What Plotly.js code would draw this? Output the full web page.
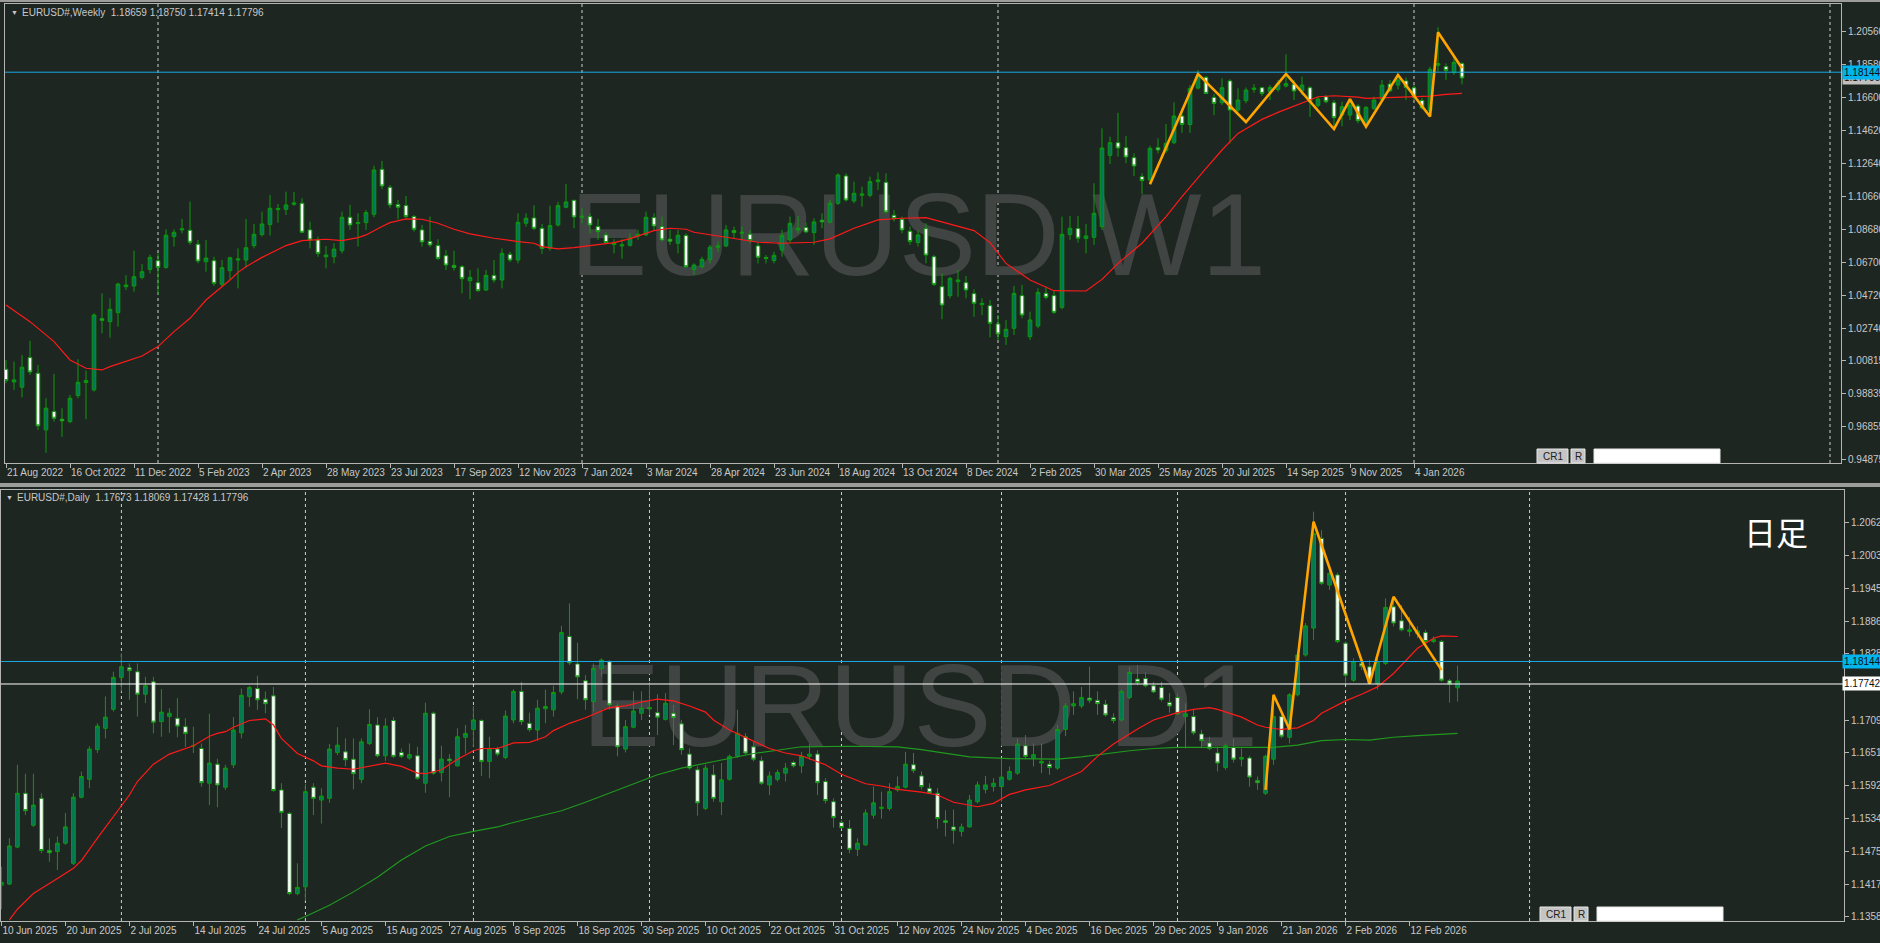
<!DOCTYPE html>
<html><head><meta charset="utf-8">
<script src="https://cdn.plot.ly/plotly-3.0.1.min.js"></script>
<style>html,body{margin:0;padding:0;background:#1e2621;overflow:hidden}#chart{width:1880px;height:943px}</style>
</head><body><div id="chart"></div>
<script>
// ---------------- Weekly (EURUSD W1) ----------------
const W_OPEN = [1.0030,0.9954,0.9922,1.0100,1.0006,0.9666,0.9776,0.9730,0.9716,0.9872,
0.9950,0.9906,1.0334,1.0316,1.0370,1.0526,1.0530,1.0582,1.0630,1.0682,
1.0642,1.0827,1.0867,1.0865,1.0781,1.0676,1.0682,1.0540,1.0622,1.0686,
1.0686,1.0773,1.0839,1.0899,1.0989,1.0991,1.1021,1.1027,1.0867,1.0807,
1.0706,1.0706,1.0742,1.0943,1.0905,1.0911,1.0961,1.1231,1.1123,1.1019,
1.1013,1.0947,1.0867,1.0797,1.0773,1.0712,1.0654,1.0646,1.0562,1.0550,
1.0506,1.0594,1.0566,1.0720,1.0686,1.0907,1.0939,1.0877,1.0756,1.0897,
1.1003,1.1045,1.0943,1.0947,1.0887,1.0837,1.0779,1.0771,1.0775,1.0831,
1.0837,1.0941,1.0887,1.0811,1.0787,1.0833,1.0630,1.0646,1.0690,1.0763,
1.0771,1.0863,1.0847,1.0841,1.0771,1.0701,1.0683,1.0746,1.0807,1.0867,
1.0881,1.0851,1.0925,1.0913,1.1027,1.1191,1.1041,1.1075,1.1075,1.1157,
1.1153,1.0955,1.0931,1.0859,1.0791,1.0875,1.0706,1.0526,1.0472,1.0556,
1.0550,1.0484,1.0418,1.0412,1.0302,1.0226,1.0276,1.0472,1.0226,1.0290,
1.0486,1.0472,1.0402,1.0839,1.0875,1.0815,1.0823,1.0887,1.1315,1.1391,
1.1361,1.1301,1.1187,1.1167,1.1361,1.1343,1.1391,1.1551,1.1500,1.1719,
1.1784,1.1663,1.1631,1.1762,1.1587,1.1643,1.1711,1.1721,1.1697,1.1711,
1.1731,1.1741,1.1703,1.1721,1.1615,1.1667,1.1631,1.1557,1.1557,1.1611,
1.1497,1.1597,1.1651,1.1743,1.1737,1.1762,1.1721,1.1645,1.1583,1.1856,
1.1848,1.1812,1.18659];
const W_HIGH = [1.0086,1.0076,1.0116,1.0202,1.0056,0.9856,1.0002,0.9796,0.9876,1.0090,
1.0022,1.0366,1.0486,1.0456,1.0550,1.0594,1.0742,1.0662,1.0718,1.0726,
1.0871,1.0871,1.0933,1.1037,1.0807,1.0807,1.0706,1.0686,1.0706,1.0756,
1.0933,1.0903,1.0977,1.1077,1.1023,1.1097,1.1095,1.1057,1.0917,1.0827,
1.0770,1.0787,1.0977,1.1017,1.0967,1.0987,1.1253,1.1281,1.1137,1.1047,
1.1071,1.0957,1.0897,1.0947,1.0811,1.0746,1.0742,1.0656,1.0626,1.0636,
1.0626,1.0686,1.0756,1.0736,1.0967,1.0967,1.1015,1.0903,1.1013,1.1037,
1.1143,1.1047,1.0997,1.0967,1.0933,1.0853,1.0811,1.0811,1.0847,1.0867,
1.0977,1.0967,1.0947,1.0867,1.0867,1.0847,1.0666,1.0706,1.0777,1.0797,
1.0897,1.0887,1.0887,1.0867,1.0791,1.0716,1.0736,1.0867,1.0947,1.0951,
1.0911,1.0937,1.0967,1.1047,1.1207,1.1207,1.1157,1.1127,1.1187,1.1213,
1.1207,1.0987,1.0947,1.0887,1.0867,1.0907,1.0716,1.0606,1.0586,1.0626,
1.0590,1.0510,1.0456,1.0446,1.0356,1.0326,1.0530,1.0536,1.0376,1.0516,
1.0526,1.0506,1.0947,1.0951,1.0951,1.0903,1.1147,1.1477,1.1427,1.1571,
1.1431,1.1327,1.1207,1.1373,1.1417,1.1503,1.1633,1.1600,1.1737,1.1828,
1.1792,1.1683,1.1778,1.1772,1.1718,1.1723,1.1743,1.1727,1.1737,1.1768,
1.1922,1.1768,1.1788,1.1731,1.1667,1.1677,1.1647,1.1637,1.1657,1.1623,
1.1611,1.1667,1.1768,1.1768,1.1804,1.1783,1.1737,1.1660,1.1848,1.2084,
1.1868,1.1918,1.18750];
const W_LOW = [0.9946,0.9906,0.9862,0.9996,0.9666,0.9529,0.9716,0.9625,0.9706,0.9856,
0.9730,0.9896,1.0246,1.0220,1.0286,1.0506,1.0496,1.0570,1.0606,1.0478,
1.0634,1.0767,1.0847,1.0777,1.0666,1.0616,1.0530,1.0526,1.0566,1.0516,
1.0642,1.0756,1.0827,1.0833,1.0911,1.0957,1.1011,1.0847,1.0756,1.0706,
1.0636,1.0666,1.0726,1.0867,1.0767,1.0867,1.0943,1.1111,1.0997,1.0931,
1.0927,1.0857,1.0767,1.0763,1.0686,1.0626,1.0622,1.0486,1.0450,1.0496,
1.0500,1.0550,1.0516,1.0674,1.0666,1.0887,1.0867,1.0723,1.0742,1.0887,
1.0997,1.0877,1.0907,1.0847,1.0807,1.0783,1.0726,1.0694,1.0767,1.0807,
1.0831,1.0867,1.0797,1.0777,1.0726,1.0636,1.0596,1.0636,1.0666,1.0736,
1.0763,1.0817,1.0807,1.0787,1.0666,1.0666,1.0666,1.0706,1.0787,1.0847,
1.0847,1.0777,1.0877,1.0907,1.1017,1.1037,1.1027,1.1007,1.1063,1.1107,
1.0967,1.0917,1.0847,1.0777,1.0767,1.0666,1.0530,1.0330,1.0456,1.0466,
1.0456,1.0346,1.0356,1.0222,1.0206,1.0176,1.0236,1.0336,1.0206,1.0276,
1.0450,1.0362,1.0390,1.0807,1.0791,1.0726,1.0777,1.0867,1.1263,1.1307,
1.1267,1.1191,1.1083,1.1141,1.1327,1.1331,1.1383,1.1450,1.1451,1.1711,
1.1683,1.1557,1.1617,1.1387,1.1577,1.1627,1.1691,1.1671,1.1647,1.1697,
1.1723,1.1647,1.1677,1.1547,1.1603,1.1627,1.1473,1.1490,1.1527,1.1507,
1.1487,1.1587,1.1647,1.1695,1.1711,1.1647,1.1647,1.1590,1.1547,1.1818,
1.1768,1.1798,1.17414];
const W_CLOSE = [0.9962,0.9966,1.0042,1.0014,0.9690,0.9796,0.9736,0.9720,0.9856,0.9952,
0.9962,1.0356,1.0324,1.0390,1.0542,1.0536,1.0586,1.0616,1.0702,1.0642,
1.0835,1.0853,1.0873,1.0793,1.0680,1.0698,1.0546,1.0640,1.0700,1.0692,
1.0760,1.0841,1.0903,1.0997,1.0995,1.1017,1.1029,1.0853,1.0807,1.0726,
1.0716,1.0752,1.0943,1.0897,1.0911,1.0971,1.1227,1.1131,1.1017,1.1003,
1.0947,1.0871,1.0795,1.0777,1.0696,1.0656,1.0642,1.0574,1.0582,1.0502,
1.0594,1.0566,1.0726,1.0686,1.0913,1.0937,1.0877,1.0756,1.0893,1.1013,
1.1035,1.0945,1.0949,1.0897,1.0857,1.0791,1.0789,1.0777,1.0817,1.0841,
1.0943,1.0891,1.0807,1.0799,1.0835,1.0646,1.0656,1.0690,1.0763,1.0771,
1.0867,1.0851,1.0853,1.0803,1.0703,1.0695,1.0714,1.0833,1.0907,1.0877,
1.0855,1.0915,1.0915,1.1027,1.1197,1.1047,1.1087,1.1083,1.1157,1.1167,
1.0975,1.0935,1.0867,1.0797,1.0837,1.0716,1.0540,1.0416,1.0576,1.0566,
1.0506,1.0426,1.0426,1.0306,1.0242,1.0270,1.0486,1.0356,1.0326,1.0492,
1.0462,1.0372,1.0841,1.0877,1.0817,1.0831,1.0967,1.1359,1.1391,1.1359,
1.1305,1.1251,1.1163,1.1357,1.1347,1.1387,1.1551,1.1500,1.1717,1.1792,
1.1687,1.1627,1.1721,1.1587,1.1647,1.1707,1.1719,1.1687,1.1723,1.1747,
1.1747,1.1701,1.1737,1.1637,1.1653,1.1637,1.1541,1.1607,1.1617,1.1523,
1.1603,1.1647,1.1737,1.1703,1.1768,1.1723,1.1663,1.1600,1.1832,1.1866,
1.1824,1.1874,1.17796];
const W_MA_IDX = [0,3,6,8,10,12,13,15,17,19,21,23,25,28,29,30,32,35,37,40,42,44,45,47,48,50,52,54,56,58,61,64,66,67,69,71,74,76,78,81,83,85,86,89,91,94,97,101,103,106,109,112,115,118,121,123,125,128,131,135,137,139,142,145,147,150,152,154,157,159,162,164,166,169,170,173,176,178,180,182];
const W_MA_VAL = [1.0416,1.0316,1.0196,1.0086,1.0036,1.0026,1.0046,1.0080,1.0110,1.0166,
1.0256,1.0336,1.0446,1.0566,1.0612,1.0646,1.0702,1.0773,1.0803,1.0811,
1.0803,1.0821,1.0837,1.0887,1.0911,1.0933,1.0931,1.0907,1.0871,1.0843,
1.0817,1.0797,1.0787,1.0767,1.0753,1.0761,1.0781,1.0791,1.0815,1.0863,
1.0877,1.0871,1.0853,1.0831,1.0815,1.0793,1.0787,1.0793,1.0813,1.0877,
1.0927,1.0937,1.0941,1.0901,1.0863,1.0791,1.0666,1.0566,1.0502,1.0500,
1.0570,1.0666,1.0787,1.0947,1.1067,1.1237,1.1347,1.1447,1.1531,1.1573,
1.1631,1.1667,1.1673,1.1665,1.1657,1.1661,1.1667,1.1671,1.1681,1.1687];
const W_ZZ_IDX = [143,149,155,160,166,168,170,174,178,179,182];
const W_ZZ_VAL = [1.1141,1.1804,1.1515,1.1804,1.1473,1.1652,1.1487,1.1798,1.1548,1.2054,1.1838];
const W_TICK_IDX = [0,8,16,24,32,40,48,56,64,72,80,88,96,104,112,120,128,136,144,152,160,168,176];
const W_TICK_TEXT = ["21 Aug 2022","16 Oct 2022","11 Dec 2022","5 Feb 2023","2 Apr 2023","28 May 2023","23 Jul 2023","17 Sep 2023","12 Nov 2023","7 Jan 2024","3 Mar 2024","28 Apr 2024","23 Jun 2024","18 Aug 2024","13 Oct 2024","8 Dec 2024","2 Feb 2025","30 Mar 2025","25 May 2025","20 Jul 2025","14 Sep 2025","9 Nov 2025","4 Jan 2026"];
const W_Y_TICKS = [1.20560,1.18580,1.16600,1.14620,1.12640,1.10660,1.08680,1.06700,1.04720,1.02740,1.00815,0.98835,0.96855,0.94875];
const W_SEPARATORS = [19,72,124,176,228];
const W_HEADER = "EURUSD#,Weekly\u00a0\u00a01.18659 1.18750 1.17414 1.17796";

// ---------------- Daily (EURUSD D1) ----------------
const D_OPEN = [1.1415,1.1417,1.1483,1.1579,1.1522,1.1570,1.1477,1.1475,1.1490,1.1454,
1.1572,1.1604,1.1657,1.1695,1.1729,1.1786,1.1803,1.1796,1.1756,1.1778,
1.1707,1.1716,1.1713,1.1698,1.1664,1.1659,1.1597,1.1631,1.1590,1.1630,
1.1687,1.1752,1.1766,1.1747,1.1753,1.1585,1.1543,1.1400,1.1412,1.1590,
1.1567,1.1570,1.1652,1.1653,1.1640,1.1604,1.1668,1.1701,1.1646,1.1709,
1.1652,1.1642,1.1646,1.1597,1.1722,1.1616,1.1640,1.1628,1.1679,1.1693,
1.1709,1.1636,1.1658,1.1643,1.1710,1.1761,1.1704,1.1692,1.1730,1.1728,
1.1760,1.1859,1.1810,1.1780,1.1743,1.1802,1.1814,1.1735,1.1658,1.1697,
1.1722,1.1732,1.1723,1.1711,1.1722,1.1703,1.1649,1.1621,1.1552,1.1612,
1.1564,1.1604,1.1645,1.1680,1.1662,1.1637,1.1594,1.1604,1.1615,1.1634,
1.1628,1.1645,1.1649,1.1600,1.1564,1.1527,1.1516,1.1479,1.1487,1.1540,
1.1552,1.1552,1.1585,1.1590,1.1630,1.1610,1.1588,1.1579,1.1530,1.1519,
1.1511,1.1519,1.1564,1.1586,1.1591,1.1591,1.1604,1.1615,1.1664,1.1642,
1.1633,1.1631,1.1624,1.1693,1.1735,1.1735,1.1749,1.1745,1.1738,1.1714,
1.1710,1.1750,1.1783,1.1784,1.1771,1.1768,1.1741,1.1750,1.1716,1.1716,
1.1685,1.1669,1.1651,1.1625,1.1661,1.1640,1.1642,1.1602,1.1579,1.1640,
1.1716,1.1679,1.1755,1.1826,1.1874,1.2034,1.1951,1.1969,1.1847,1.1781,
1.1811,1.1805,1.1775,1.1811,1.1912,1.1887,1.1868,1.1864,1.1866,1.1850,
1.1850,1.1780,1.17673];
const D_HIGH = [1.1448,1.1499,1.1630,1.1614,1.1614,1.1579,1.1499,1.1502,1.1544,1.1579,
1.1618,1.1663,1.1704,1.1752,1.1796,1.1829,1.1811,1.1811,1.1787,1.1787,
1.1765,1.1731,1.1749,1.1713,1.1698,1.1668,1.1721,1.1641,1.1630,1.1715,
1.1766,1.1771,1.1789,1.1761,1.1769,1.1597,1.1546,1.1454,1.1596,1.1597,
1.1588,1.1667,1.1697,1.1677,1.1677,1.1677,1.1729,1.1715,1.1713,1.1715,
1.1659,1.1668,1.1662,1.1741,1.1725,1.1664,1.1649,1.1695,1.1701,1.1735,
1.1711,1.1680,1.1662,1.1727,1.1765,1.1778,1.1723,1.1746,1.1764,1.1771,
1.1878,1.1918,1.1848,1.1790,1.1811,1.1820,1.1817,1.1740,1.1710,1.1761,
1.1761,1.1778,1.1756,1.1758,1.1737,1.1710,1.1659,1.1627,1.1630,1.1630,
1.1633,1.1648,1.1728,1.1686,1.1671,1.1645,1.1618,1.1621,1.1633,1.1637,
1.1653,1.1668,1.1656,1.1606,1.1570,1.1531,1.1531,1.1499,1.1550,1.1591,
1.1582,1.1597,1.1609,1.1653,1.1651,1.1618,1.1597,1.1588,1.1549,1.1550,
1.1525,1.1576,1.1600,1.1610,1.1606,1.1641,1.1627,1.1677,1.1683,1.1668,
1.1668,1.1637,1.1701,1.1740,1.1761,1.1769,1.1805,1.1761,1.1746,1.1722,
1.1765,1.1805,1.1808,1.1795,1.1778,1.1778,1.1758,1.1757,1.1740,1.1728,
1.1692,1.1680,1.1662,1.1668,1.1677,1.1659,1.1646,1.1609,1.1648,1.1755,
1.1725,1.1758,1.1832,1.1883,1.2082,1.2049,1.1987,1.1973,1.1850,1.1820,
1.1820,1.1817,1.1820,1.1927,1.1929,1.1915,1.1894,1.1877,1.1871,1.1859,
1.1853,1.1783,1.18069];
const D_LOW = [1.1372,1.1415,1.1481,1.1540,1.1519,1.1472,1.1457,1.1442,1.1487,1.1451,
1.1570,1.1588,1.1651,1.1677,1.1725,1.1761,1.1746,1.1716,1.1740,1.1686,
1.1680,1.1687,1.1679,1.1662,1.1651,1.1591,1.1558,1.1554,1.1585,1.1624,
1.1677,1.1734,1.1728,1.1722,1.1582,1.1517,1.1397,1.1397,1.1387,1.1540,
1.1525,1.1562,1.1647,1.1627,1.1586,1.1597,1.1665,1.1643,1.1637,1.1642,
1.1642,1.1639,1.1603,1.1580,1.1612,1.1600,1.1572,1.1627,1.1650,1.1662,
1.1610,1.1606,1.1645,1.1640,1.1704,1.1701,1.1689,1.1673,1.1704,1.1716,
1.1756,1.1808,1.1747,1.1728,1.1725,1.1787,1.1728,1.1645,1.1652,1.1695,
1.1710,1.1719,1.1683,1.1709,1.1665,1.1648,1.1621,1.1539,1.1549,1.1564,
1.1540,1.1602,1.1642,1.1648,1.1636,1.1594,1.1576,1.1600,1.1600,1.1625,
1.1615,1.1639,1.1576,1.1561,1.1518,1.1516,1.1472,1.1467,1.1485,1.1534,
1.1534,1.1548,1.1582,1.1588,1.1615,1.1586,1.1578,1.1516,1.1502,1.1489,
1.1502,1.1518,1.1561,1.1579,1.1582,1.1564,1.1602,1.1612,1.1640,1.1627,
1.1615,1.1612,1.1621,1.1681,1.1719,1.1731,1.1740,1.1719,1.1716,1.1704,
1.1707,1.1747,1.1772,1.1768,1.1758,1.1743,1.1723,1.1719,1.1659,1.1683,
1.1661,1.1656,1.1618,1.1621,1.1634,1.1627,1.1591,1.1585,1.1576,1.1630,
1.1677,1.1668,1.1752,1.1823,1.1853,1.1951,1.1942,1.1847,1.1775,1.1778,
1.1799,1.1775,1.1764,1.1808,1.1877,1.1868,1.1859,1.1856,1.1847,1.1847,
1.1778,1.1741,1.17428];
const D_CLOSE = [1.1420,1.1485,1.1579,1.1548,1.1558,1.1477,1.1473,1.1490,1.1519,1.1572,
1.1609,1.1658,1.1699,1.1715,1.1786,1.1805,1.1798,1.1756,1.1771,1.1706,
1.1724,1.1722,1.1699,1.1686,1.1664,1.1598,1.1633,1.1594,1.1624,1.1692,
1.1754,1.1768,1.1746,1.1739,1.1584,1.1545,1.1400,1.1411,1.1582,1.1570,
1.1574,1.1658,1.1665,1.1639,1.1614,1.1671,1.1702,1.1646,1.1699,1.1645,
1.1645,1.1648,1.1606,1.1722,1.1615,1.1640,1.1637,1.1680,1.1686,1.1710,
1.1636,1.1658,1.1649,1.1717,1.1761,1.1707,1.1693,1.1731,1.1734,1.1759,
1.1866,1.1812,1.1787,1.1746,1.1802,1.1817,1.1737,1.1662,1.1698,1.1726,
1.1731,1.1730,1.1715,1.1740,1.1714,1.1657,1.1624,1.1562,1.1624,1.1570,
1.1603,1.1645,1.1686,1.1651,1.1640,1.1597,1.1610,1.1616,1.1624,1.1628,
1.1645,1.1649,1.1598,1.1566,1.1536,1.1518,1.1479,1.1490,1.1544,1.1562,
1.1554,1.1582,1.1591,1.1631,1.1620,1.1591,1.1580,1.1534,1.1527,1.1513,
1.1519,1.1567,1.1594,1.1594,1.1597,1.1608,1.1618,1.1667,1.1645,1.1648,
1.1636,1.1625,1.1693,1.1735,1.1739,1.1750,1.1745,1.1739,1.1719,1.1709,
1.1761,1.1795,1.1777,1.1771,1.1760,1.1747,1.1735,1.1721,1.1721,1.1687,
1.1673,1.1659,1.1633,1.1664,1.1640,1.1643,1.1608,1.1598,1.1645,1.1716,
1.1681,1.1755,1.1826,1.1878,1.2043,1.1954,1.1972,1.1850,1.1790,1.1814,
1.1806,1.1777,1.1814,1.1911,1.1883,1.1871,1.1871,1.1869,1.1850,1.1854,
1.1781,1.1774,1.17796];
const D_MA_FAST_IDX = [1,2,4,6,7,9,10,12,14,16,17,19,21,23,24,26,27,28,29,31,33,34,35,37,39,40,42,44,46,48,50,52,53,55,57,59,60,62,64,66,68,69,71,73,76,78,80,82,84,86,88,89,91,93,96,98,100,103,105,108,110,112,115,117,119,122,124,126,128,131,132,135,137,139,142,144,147,149,151,152,155,157,158,160,162,164,165,168,170,172,174,175,177,179,180,182];
const D_MA_FAST_VAL = [1.1353,1.1372,1.1400,1.1417,1.1427,1.1445,1.1459,1.1499,1.1537,1.1576,
1.1600,1.1631,1.1649,1.1659,1.1664,1.1681,1.1686,1.1689,1.1697,1.1709,
1.1712,1.1701,1.1677,1.1650,1.1637,1.1628,1.1624,1.1622,1.1627,1.1633,
1.1627,1.1615,1.1614,1.1621,1.1640,1.1655,1.1659,1.1659,1.1669,1.1670,
1.1680,1.1691,1.1704,1.1714,1.1732,1.1735,1.1742,1.1747,1.1744,1.1735,
1.1724,1.1710,1.1692,1.1679,1.1659,1.1651,1.1646,1.1630,1.1613,1.1596,
1.1592,1.1586,1.1581,1.1576,1.1563,1.1555,1.1561,1.1577,1.1585,1.1593,
1.1599,1.1618,1.1645,1.1667,1.1694,1.1710,1.1723,1.1729,1.1732,1.1729,
1.1715,1.1701,1.1697,1.1693,1.1696,1.1709,1.1722,1.1744,1.1756,1.1769,
1.1793,1.1808,1.1838,1.1856,1.1860,1.1859];
const D_MA_SLOW_IDX = [37,38,41,44,47,50,53,56,59,62,64,67,70,73,76,79,82,85,88,91,94,97,100,106,112,115,118,121,126,132,135,138,141,144,147,159,162,165,168,171,174,177,180,182];
const D_MA_SLOW_VAL = [1.1353,1.1359,1.1379,1.1403,1.1429,1.1460,1.1485,1.1502,1.1511,1.1519,
1.1527,1.1537,1.1548,1.1563,1.1579,1.1596,1.1612,1.1624,1.1633,1.1641,
1.1650,1.1656,1.1662,1.1663,1.1662,1.1657,1.1650,1.1644,1.1641,1.1640,
1.1644,1.1650,1.1655,1.1659,1.1661,1.1661,1.1665,1.1673,1.1675,1.1674,
1.1679,1.1682,1.1684,1.1686];
const D_ZZ_IDX = [158,159,161,164,171,174,180];
const D_ZZ_VAL = [1.1585,1.1755,1.1693,1.2064,1.1775,1.1930,1.1799];
const D_TICK_IDX = [0,8,16,24,32,40,48,56,64,72,80,88,96,104,112,120,128,136,144,152,160,168,176];
const D_TICK_TEXT = ["10 Jun 2025","20 Jun 2025","2 Jul 2025","14 Jul 2025","24 Jul 2025","5 Aug 2025","15 Aug 2025","27 Aug 2025","8 Sep 2025","18 Sep 2025","30 Sep 2025","10 Oct 2025","22 Oct 2025","31 Oct 2025","12 Nov 2025","24 Nov 2025","4 Dec 2025","16 Dec 2025","29 Dec 2025","9 Jan 2026","21 Jan 2026","2 Feb 2026","12 Feb 2026"];
const D_Y_TICKS = [1.20620,1.20035,1.19450,1.18865,1.18280,1.17690,1.17095,1.16510,1.15925,1.15340,1.14755,1.14170,1.13585];
const D_SEPARATORS = [15,38,59,81,105,125,147,168,191];
const D_HEADER = "EURUSD#,Daily\u00a0\u00a01.17673 1.18069 1.17428 1.17796";

const ASK_PRICE = 1.18144;
const W_LAST = 1.17796;
const D_BID_LINE = 1.17742;

// ---------------- drawing ----------------
const FW = 1880, FH = 943;
const px = v => v / FW;
const py = v => 1 - v / FH;
const BG = '#1e2621';
const FG = '#c8c8c8';
const FRAME = '#b4b4b4';
const FONT = "'Liberation Sans',Arial,sans-serif";
const FS = 10;
const idx = arr => arr.map((_, i) => i);

function candle(o, h, l, c, xa, ya) {
  return {
    type: 'candlestick', x: idx(o), open: o, high: h, low: l, close: c,
    xaxis: xa, yaxis: ya, whiskerwidth: 0, hoverinfo: 'skip', showlegend: false,
    increasing: {line: {color: '#0d9a0d', width: 1}, fillcolor: '#04765a'},
    decreasing: {line: {color: '#0d9a0d', width: 1}, fillcolor: '#ffffff'}
  };
}
function line(x, y, color, width, xa, ya) {
  return {type: 'scatter', mode: 'lines', x: x, y: y, xaxis: xa, yaxis: ya,
    line: {color: color, width: width}, hoverinfo: 'skip', showlegend: false};
}

const data = [
  candle(W_OPEN, W_HIGH, W_LOW, W_CLOSE, 'x', 'y'),
  line(W_MA_IDX, W_MA_VAL, '#ff1a1a', 1.2, 'x', 'y'),
  line(W_ZZ_IDX, W_ZZ_VAL, '#ffa500', 2.6, 'x', 'y'),
  candle(D_OPEN, D_HIGH, D_LOW, D_CLOSE, 'x2', 'y2'),
  line(D_MA_SLOW_IDX, D_MA_SLOW_VAL, '#1f9a1f', 1.1, 'x2', 'y2'),
  line(D_MA_FAST_IDX, D_MA_FAST_VAL, '#ff1a1a', 1.2, 'x2', 'y2'),
  line(D_ZZ_IDX, D_ZZ_VAL, '#ffa500', 2.6, 'x2', 'y2')
];

const tickFont = {family: FONT, size: FS, color: FG};
function xAxis(domain, range, tv, tt, anchor) {
  return {domain: domain, range: range, anchor: anchor, showgrid: false, zeroline: false,
    showline: true, mirror: true, linecolor: FRAME, linewidth: 1,
    ticks: 'outside', ticklen: 4, tickcolor: FRAME, tickmode: 'array', tickvals: tv, ticktext: tt,
    ticklabelposition: 'outside right', tickangle: 0, tickfont: tickFont,
    rangeslider: {visible: false}, fixedrange: true, automargin: false};
}
function yAxis(domain, range, tv, anchor) {
  return {domain: domain, range: range, anchor: anchor, side: 'right', showgrid: false, zeroline: false,
    showline: true, mirror: true, linecolor: FRAME, linewidth: 1,
    ticks: 'outside', ticklen: 4, tickcolor: FRAME, tickmode: 'array', tickvals: tv,
    ticktext: tv.map(v => v.toFixed(5)), tickfont: tickFont, fixedrange: true, automargin: false};
}

const shapes = [];
W_SEPARATORS.forEach(s => shapes.push({type: 'line', xref: 'x', yref: 'y domain', x0: s, x1: s, y0: 0, y1: 1,
  line: {color: '#cfcfcf', width: 1, dash: '3px,3px'}, layer: 'below'}));
D_SEPARATORS.forEach(s => shapes.push({type: 'line', xref: 'x2', yref: 'y2 domain', x0: s, x1: s, y0: 0, y1: 1,
  line: {color: '#cfcfcf', width: 1, dash: '3px,3px'}, layer: 'below'}));
// watermarks
shapes.push({type: 'rect', xref: 'paper', yref: 'paper', x0: px(518), x1: px(1318), y0: py(293), y1: py(155),
  line: {width: 0}, fillcolor: 'rgba(0,0,0,0)', layer: 'below',
  label: {text: 'EURUSD W1', textposition: 'middle center', font: {family: "'Liberation Sans',Arial,sans-serif", size: 116, color: '#404443'}}});
shapes.push({type: 'rect', xref: 'paper', yref: 'paper', x0: px(520), x1: px(1320), y0: py(763), y1: py(625),
  line: {width: 0}, fillcolor: 'rgba(0,0,0,0)', layer: 'below',
  label: {text: 'EURUSD D1', textposition: 'middle center', font: {family: "'Liberation Sans',Arial,sans-serif", size: 117, color: '#404443'}}});
// price lines
shapes.push({type: 'line', xref: 'x domain', yref: 'y', x0: 0, x1: 1, y0: ASK_PRICE, y1: ASK_PRICE, line: {color: '#19a9e6', width: 1}});
shapes.push({type: 'line', xref: 'x2 domain', yref: 'y2', x0: 0, x1: 1, y0: ASK_PRICE, y1: ASK_PRICE, line: {color: '#19a9e6', width: 1}});
shapes.push({type: 'line', xref: 'x2 domain', yref: 'y2', x0: 0, x1: 1, y0: D_BID_LINE, y1: D_BID_LINE, line: {color: '#ffffff', width: 1}});
// window borders
shapes.push({type: 'rect', xref: 'paper', yref: 'paper', x0: 0, x1: 1, y0: py(2), y1: 1, line: {width: 0}, fillcolor: '#9c9c9c'});
shapes.push({type: 'rect', xref: 'paper', yref: 'paper', x0: 0, x1: 1, y0: py(487), y1: py(483), line: {width: 0}, fillcolor: '#9c9c9c'});
// CR1 / R buttons + input box
function uiBox(x0, x1, y0, y1, fill) {
  shapes.push({type: 'rect', xref: 'paper', yref: 'paper', x0: px(x0), x1: px(x1), y0: py(y1), y1: py(y0),
    line: {color: '#e6e6e6', width: 1}, fillcolor: fill});
}
uiBox(1537, 1568, 449, 463, '#c4c4c4'); uiBox(1571, 1585, 449, 463, '#c4c4c4'); uiBox(1594, 1720, 449, 463, '#ffffff');
uiBox(1540, 1571, 907, 921, '#c4c4c4'); uiBox(1574, 1588, 907, 921, '#c4c4c4'); uiBox(1597, 1723, 907, 921, '#ffffff');

const annotations = [];
function txt(x, y, text, size, color, anchor, font) {
  annotations.push({xref: 'paper', yref: 'paper', x: px(x), y: py(y), text: text, showarrow: false,
    xanchor: anchor || 'left', yanchor: 'middle', font: {family: font || FONT, size: size, color: color}});
}
txt(9, 12.5, '\u25BC', 7, FG);
txt(20, 12.5, W_HEADER, FS, FG);
txt(4, 497.5, '\u25BC', 7, FG);
txt(15, 497.5, D_HEADER, FS, FG);
txt(1552.5, 456, 'CR1', 10, '#202020', 'center');
txt(1578, 456, 'R', 10, '#202020', 'center');
txt(1555.5, 914, 'CR1', 10, '#202020', 'center');
txt(1581, 914, 'R', 10, '#202020', 'center');
txt(1776, 531, '日足', 32, '#ffffff', 'center', "'Noto Sans CJK JP',sans-serif");
function priceTag(yref, price, bg) {
  annotations.push({xref: 'paper', yref: yref, x: px(1842), y: price, text: price.toFixed(5), showarrow: false,
    xanchor: 'left', yanchor: 'middle', bgcolor: bg, borderpad: 1,
    font: {family: FONT, size: FS, color: '#101010'}});
}
priceTag('y', W_LAST, '#c0c0c0');
priceTag('y', ASK_PRICE, '#00b4f0');
priceTag('y2', ASK_PRICE, '#00b4f0');
priceTag('y2', D_BID_LINE, '#ffffff');

const layout = {
  width: FW, height: FH, margin: {l: 0, r: 0, t: 0, b: 0, pad: 0},
  paper_bgcolor: BG, plot_bgcolor: BG, showlegend: false, hovermode: false, boxgap: 0.35,
  xaxis: xAxis([px(5), px(1841)], [-0.125, 229.375], W_TICK_IDX, W_TICK_TEXT, 'y'),
  yaxis: yAxis([py(463), py(4)], [0.9467, 1.2224], W_Y_TICKS, 'x'),
  xaxis2: xAxis([px(1), px(1844)], [-0.05, 230.3], D_TICK_IDX, D_TICK_TEXT, 'y2'),
  yaxis2: yAxis([py(921), py(490)], [1.13510, 1.21206], D_Y_TICKS, 'x2'),
  shapes: shapes, annotations: annotations
};
Plotly.newPlot('chart', data, layout, {staticPlot: true});
</script></body></html>
